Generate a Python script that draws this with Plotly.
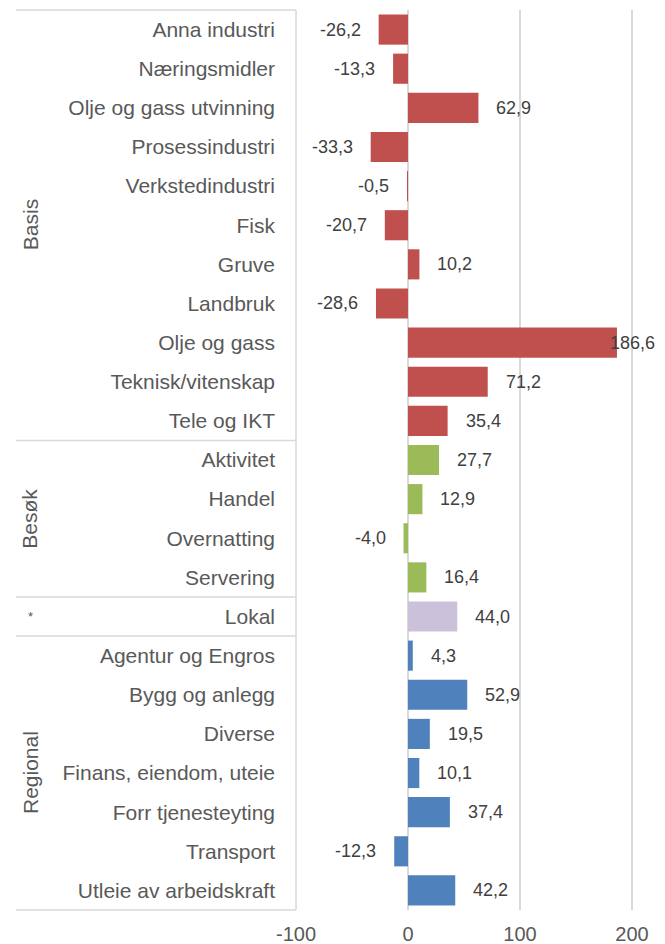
import plotly.graph_objects as go

## data
basis = ['Anna industri', 'Næringsmidler', 'Olje og gass utvinning', 'Prosessindustri',
         'Verkstedindustri', 'Fisk', 'Gruve', 'Landbruk', 'Olje og gass',
         'Teknisk/vitenskap', 'Tele og IKT']
basis_vals = [-26.2, -13.3, 62.9, -33.3, -0.5, -20.7, 10.2, -28.6, 186.6, 71.2, 35.4]

besok = ['Aktivitet', 'Handel', 'Overnatting', 'Servering']
besok_vals = [27.7, 12.9, -4.0, 16.4]

lokal = ['Lokal']
lokal_vals = [44.0]

regional = ['Agentur og Engros', 'Bygg og anlegg', 'Diverse', 'Finans, eiendom, uteie',
            'Forr tjenesteyting', 'Transport', 'Utleie av arbeidskraft']
regional_vals = [4.3, 52.9, 19.5, 10.1, 37.4, -12.3, 42.2]

groups = [('Basis', basis, basis_vals, '#C0504D'),
          ('Besøk', besok, besok_vals, '#9BBB59'),
          ('*', lokal, lokal_vals, '#CCC1DA'),
          ('Regional', regional, regional_vals, '#4F81BD')]

x_ticks = [-100, 0, 100, 200]
x_range = [-100, 229.5]
grid = '#d9d9d9'
font = 'Liberation Sans, Arial, sans-serif'

# page body has an 8px margin, so the figure is sized to fit inside it
W, H = 657, 936
L, R, T, B = 288, 0, 2, 34
plot_w = W - L - R
n_rows = sum(len(g[1]) for g in groups)
label_w = 47  # approx. width of a data label in px

fig = go.Figure()
annotations = []
shapes = []
row = 0
for name, cats, vals, color in groups:
    fig.add_trace(go.Bar(y=cats, x=vals, orientation='h', marker_color=color,
                         marker_line_width=0, showlegend=False))
    for c, v in zip(cats, vals):
        txt = f'{v:.1f}'.replace('.', ',')
        lab = dict(y=c, text=txt, showarrow=False, font=dict(size=18, color='#404040'))
        px_end = (v - x_range[0]) / (x_range[1] - x_range[0]) * plot_w
        if v < 0:
            lab.update(x=v, xanchor='right', xshift=-16)
        elif px_end + 16 + label_w > plot_w - 8:
            # no room outside: pull the label in against the chart edge
            lab.update(x=x_range[1], xanchor='right', xshift=-8)
        else:
            lab.update(x=v, xanchor='left', xshift=16)
        annotations.append(lab)
    # group label
    annotations.append(dict(x=-266 / plot_w, xref='paper', xanchor='center',
                            y=row + (len(cats) - 1) / 2, yref='y', text=name,
                            textangle=-90 if name != '*' else 0, showarrow=False,
                            font=dict(size=21 if name != '*' else 13, color='#595959')))
    # separator line above group
    shapes.append(dict(type='line', xref='paper', x0=-280 / plot_w, x1=0,
                       yref='paper', y0=1 - row / n_rows, y1=1 - row / n_rows,
                       line=dict(color=grid, width=1.5)))
    row += len(cats)
shapes.append(dict(type='line', xref='paper', x0=-280 / plot_w, x1=0,
                   yref='paper', y0=0, y1=0, line=dict(color=grid, width=1.5)))
shapes.append(dict(type='line', xref='paper', x0=0, x1=0,
                   yref='paper', y0=0, y1=1, line=dict(color=grid, width=1.5)))

fig.update_layout(
    width=W, height=H,
    margin=dict(l=L, r=R, t=T, b=B),
    plot_bgcolor='white', paper_bgcolor='white',
    font=dict(family=font, color='#595959'),
    bargap=0.23,
    annotations=annotations,
    shapes=shapes,
    xaxis=dict(range=x_range, tickvals=x_ticks, ticktext=[str(t) for t in x_ticks],
               showgrid=True, gridcolor=grid, gridwidth=1.5,
               zeroline=True, zerolinecolor=grid, zerolinewidth=1.5,
               tickfont=dict(size=20, color='#595959'), showline=False,
               ticks='', ticklabelstandoff=10, automargin=False, fixedrange=True),
    yaxis=dict(autorange=False, range=[n_rows - 0.5, -0.5], showgrid=False,
               tickfont=dict(size=21, color='#595959'), ticks='', ticklabelstandoff=20,
               showline=False, automargin=False),
)

### saving figure
fig.write_html("out.html")
